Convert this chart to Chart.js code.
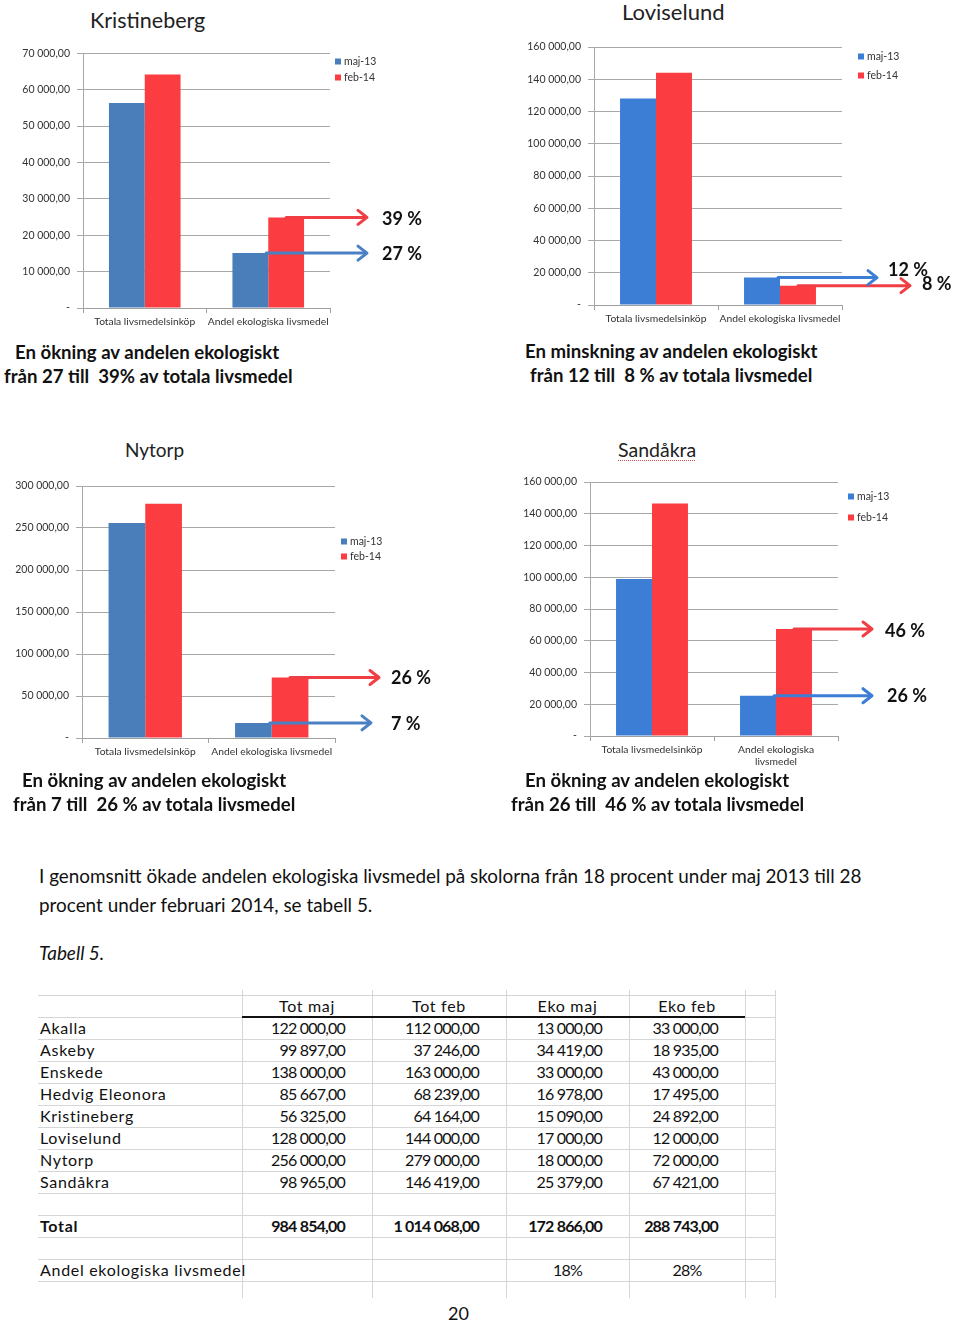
<!DOCTYPE html>
<html>
<head>
<meta charset="utf-8">
<script src="https://cdn.jsdelivr.net/npm/chart.js@4.4.1/dist/chart.umd.min.js"></script>
<style>
  html, body { margin:0; padding:0; background:#fff; }
  body { width:960px; height:1321px; position:relative; overflow:hidden; font-family: Lato, Carlito, Calibri, sans-serif; color:#111; }
  .abs { position:absolute; white-space:pre; }
  canvas { position:absolute; }
  .title { font-size:22px; line-height:26px; color:#222; }
  .cap { font-size:18.6px; font-weight:bold; line-height:24px; color:#111; }
  .para { font-size:18.9px; line-height:29px; color:#111; }
  .cell { position:absolute; font-size:16px; line-height:22px; height:22px; white-space:pre; color:#111; }
  .num { letter-spacing:-0.8px; }
  .lbl { letter-spacing:0.7px; }
  .hl { position:absolute; height:1px; background:#d6d6d6; }
  .vl { position:absolute; width:1px; background:#d6d6d6; }
</style>
</head>
<body>

<canvas id="cK" width="480" height="300" style="left:0px;top:40px"></canvas>
<canvas id="cL" width="480" height="300" style="left:480px;top:30px"></canvas>
<canvas id="cN" width="480" height="300" style="left:0px;top:470px"></canvas>
<canvas id="cS" width="480" height="310" style="left:480px;top:465px"></canvas>

<div class="abs title" style="left:90px;top:7px;font-size:21.5px">Kristineberg</div>
<div class="abs title" style="left:622px;top:-1px">Loviselund</div>
<div class="abs title" style="left:125px;top:437px;font-size:19px">Nytorp</div>
<div class="abs title" style="left:618px;top:437px;font-size:19.5px;text-decoration:underline dotted #e05050;text-decoration-thickness:1px;text-underline-offset:3px">Sandåkra</div>

<div class="abs cap" style="left:15px;top:340px">En ökning av andelen ekologiskt</div>
<div class="abs cap" style="left:4px;top:364px">från 27 till  39% av totala livsmedel</div>
<div class="abs cap" style="left:525px;top:339px">En minskning av andelen ekologiskt</div>
<div class="abs cap" style="left:530px;top:363px">från 12 till  8 % av totala livsmedel</div>
<div class="abs cap" style="left:22px;top:768px">En ökning av andelen ekologiskt</div>
<div class="abs cap" style="left:13px;top:792px">från 7 till  26 % av totala livsmedel</div>
<div class="abs cap" style="left:525px;top:768px">En ökning av andelen ekologiskt</div>
<div class="abs cap" style="left:511px;top:792px">från 26 till  46 % av totala livsmedel</div>

<div class="abs para" style="left:39px;top:861px">I genomsnitt ökade andelen ekologiska livsmedel på skolorna från 18 procent under maj 2013 till 28
procent under februari 2014, se tabell 5.</div>
<div class="abs para" style="left:39px;top:938px;font-style:italic">Tabell 5.</div>

<div id="tbl"></div>
<div class="abs" style="left:448px;top:1301px;font-size:18px;line-height:24px">20</div>

<script>
// ---------- Chart data ----------
const categories = ['Totala livsmedelsinköp', 'Andel ekologiska livsmedel'];
const categoriesWrapped = ['Totala livsmedelsinköp', ['Andel ekologiska', 'livsmedel']];
const seriesNames = ['maj-13', 'feb-14'];

const kristinebergMaj = [56325, 15090];
const kristinebergFeb = [64164, 24892];
const kristinebergPct = ['27 %', '39 %'];

const loviselundMaj = [128000, 17000];
const loviselundFeb = [144000, 12000];
const loviselundPct = ['12 %', '8 %'];

const nytorpMaj = [256000, 18000];
const nytorpFeb = [279000, 72000];
const nytorpPct = ['7 %', '26 %'];

const sandakraMaj = [98965, 25379];
const sandakraFeb = [146419, 67421];
const sandakraPct = ['26 %', '46 %'];

const kristinebergTicks = { max: 70000, step: 10000 };
const loviselundTicks = { max: 160000, step: 20000 };
const nytorpTicks = { max: 300000, step: 50000 };
const sandakraTicks = { max: 160000, step: 20000 };

// ---------- Table data ----------
const tableHeaders = ['Tot maj', 'Tot feb', 'Eko maj', 'Eko feb'];
const tableSchools = ['Akalla', 'Askeby', 'Enskede', 'Hedvig Eleonora', 'Kristineberg', 'Loviselund', 'Nytorp', 'Sandåkra'];
const totMaj = [122000, 99897, 138000, 85667, 56325, 128000, 256000, 98965];
const totFeb = [112000, 37246, 163000, 68239, 64164, 144000, 279000, 146419];
const ekoMaj = [13000, 34419, 33000, 16978, 15090, 17000, 18000, 25379];
const ekoFeb = [33000, 18935, 43000, 17495, 24892, 12000, 72000, 67421];
const totalLabel = 'Total';
const totalRow = [984854, 1014068, 172866, 288743];
const andelLabel = 'Andel ekologiska livsmedel';
const andelRow = ['18%', '28%'];

function fmtNum(v) {
  const s = Math.round(v).toString();
  return s.replace(/\B(?=(\d{3})+(?!\d))/g, ' ') + ',00';
}

Chart.defaults.font.family = 'Lato, Carlito, Calibri, sans-serif';
const RED = '#fb3c40';

const annotPlugin = {
  id: 'annot',
  afterDatasetsDraw(chart) {
    const o = chart.options.plugins.annot;
    const ctx = chart.ctx;
    const m0 = chart.getDatasetMeta(0).data[1];
    const m1 = chart.getDatasetMeta(1).data[1];
    const arrow = (x0, y, x1, color) => {
      ctx.save();
      ctx.strokeStyle = color; ctx.lineWidth = 3; ctx.lineCap = 'round'; ctx.lineJoin = 'round';
      ctx.beginPath(); ctx.moveTo(x0, y); ctx.lineTo(x1 - 1, y); ctx.stroke();
      ctx.beginPath(); ctx.moveTo(x1 - 9, y - 7); ctx.lineTo(x1, y); ctx.lineTo(x1 - 9, y + 7); ctx.stroke();
      ctx.restore();
    };
    arrow(m1.x, m1.y, o.redEnd, o.redArrow);
    arrow(m0.x + m0.width / 2 - 2, m0.y, o.blueEnd, o.blueArrow);
    ctx.save();
    ctx.fillStyle = '#111';
    ctx.font = 'bold 18px Lato, Carlito, Calibri, sans-serif';
    ctx.textBaseline = 'middle';
    ctx.textAlign = 'left';
    ctx.fillText(o.pct[1], o.redLabel[0], m1.y + o.redLabel[1]);
    ctx.fillText(o.pct[0], o.blueLabel[0], m0.y + o.blueLabel[1]);
    ctx.font = '10.5px Lato, Carlito, Calibri, sans-serif';
    chart.data.datasets.forEach((ds, i) => {
      const lx = o.legend[0], ly = o.legend[1] + i * o.legend[2];
      ctx.fillStyle = ds.backgroundColor;
      ctx.fillRect(lx, ly - 3.5, 6, 6);
      ctx.fillStyle = '#333';
      ctx.fillText(ds.label, lx + 9, ly);
    });
    ctx.restore();
  }
};

function makeChart(id, cfg) {
  return new Chart(document.getElementById(id), {
    type: 'bar',
    data: {
      labels: cfg.labels,
      datasets: [
        { label: seriesNames[0], data: cfg.maj, backgroundColor: cfg.blue },
        { label: seriesNames[1], data: cfg.feb, backgroundColor: RED }
      ]
    },
    options: {
      responsive: false, animation: false, devicePixelRatio: 1,
      layout: { padding: { left: cfg.pad[0], top: cfg.pad[1], right: cfg.pad[2], bottom: 0 } },
      datasets: { bar: { categoryPercentage: 0.58, barPercentage: 1 } },
      plugins: {
        legend: { display: false }, tooltip: { enabled: false },
        annot: cfg.annot
      },
      scales: {
        x: {
          grid: { display: true, drawOnChartArea: false, drawTicks: true, tickLength: 5, color: '#a0a0a0' },
          border: { color: '#a0a0a0' },
          ticks: { font: { size: 10.3 }, color: '#333', maxRotation: 0, autoSkip: false, padding: 2 },
          afterFit(s) { s.height = cfg.xh; }
        },
        y: {
          min: 0, max: cfg.ticks.max,
          ticks: { stepSize: cfg.ticks.step, callback: v => v === 0 ? '-' : fmtNum(v), font: { size: 10.5 }, color: '#333', padding: 7 },
          grid: { color: '#a8a8a8', tickLength: 6 },
          border: { color: '#a8a8a8' },
          afterFit(s) { s.width = 80; }
        }
      }
    },
    plugins: [annotPlugin]
  });
}

makeChart('cK', {
  labels: categories, maj: kristinebergMaj, feb: kristinebergFeb, blue: '#4a7ebb', ticks: kristinebergTicks,
  pad: [3, 11, 150], xh: 32,
  annot: { pct: kristinebergPct, redEnd: 367, blueEnd: 367, redArrow: '#f03e44', blueArrow: '#4a80c4',
    redLabel: [382, 2], blueLabel: [382, 1], legend: [335, 22, 16] }
});
makeChart('cL', {
  labels: categories, maj: loviselundMaj, feb: loviselundFeb, blue: '#3c7ed6', ticks: loviselundTicks,
  pad: [34, 17, 118], xh: 25,
  annot: { pct: loviselundPct, redEnd: 430, blueEnd: 397, redArrow: '#f03e44', blueArrow: '#3c7ed6',
    redLabel: [442, -1], blueLabel: [408, -7], legend: [378, 27, 19] }
});
makeChart('cN', {
  labels: categories, maj: nytorpMaj, feb: nytorpFeb, blue: '#4a7ebb', ticks: nytorpTicks,
  pad: [2, 16, 145], xh: 32,
  annot: { pct: nytorpPct, redEnd: 379, blueEnd: 371, redArrow: '#f03e44', blueArrow: '#4a80c4',
    redLabel: [391, 1], blueLabel: [391, 1], legend: [341, 72, 15] }
});
makeChart('cS', {
  labels: categoriesWrapped, maj: sandakraMaj, feb: sandakraFeb, blue: '#3c7ed6', ticks: sandakraTicks,
  pad: [30, 17, 122], xh: 39,
  annot: { pct: sandakraPct, redEnd: 392, blueEnd: 392, redArrow: '#f03e44', blueArrow: '#3c7ed6',
    redLabel: [405, 2], blueLabel: [407, 0], legend: [368, 32, 21] }
});

// ---------- Table ----------
(function buildTable() {
  const host = document.getElementById('tbl');
  const colX = [38, 242, 372, 506, 629, 745, 775];
  const top0 = 995, rh = 22;
  let html = '';
  for (let k = 0; k <= 13; k++) {
    html += `<div class="hl" style="left:38px;width:737px;top:${top0 + k * rh}px"></div>`;
  }
  for (let c = 1; c < colX.length; c++) {
    html += `<div class="vl" style="left:${colX[c]}px;top:990px;height:308px"></div>`;
  }
  html += `<div style="position:absolute;left:242px;width:503px;top:1016px;height:2px;background:#111"></div>`;
  const cell = (txt, row, col, align, bold, cls) => {
    const x = colX[col], w = colX[col + 1] - colX[col];
    const pad = align === 'right' ? 'padding-right:27px;' : (align === 'left' ? 'padding-left:2px;' : '');
    return `<div class="cell ${cls || ''}" style="left:${x}px;width:${w}px;top:${top0 + row * rh}px;text-align:${align};box-sizing:border-box;${pad}${bold ? 'font-weight:bold;' : ''}">${txt}</div>`;
  };
  tableHeaders.forEach((h, i) => { html += cell(h, 0, i + 1, 'center', false, 'lbl'); });
  tableSchools.forEach((s, r) => {
    html += cell(s, r + 1, 0, 'left', false, 'lbl');
    html += cell(fmtNum(totMaj[r]), r + 1, 1, 'right', false, 'num');
    html += cell(fmtNum(totFeb[r]), r + 1, 2, 'right', false, 'num');
    html += cell(fmtNum(ekoMaj[r]), r + 1, 3, 'right', false, 'num');
    html += cell(fmtNum(ekoFeb[r]), r + 1, 4, 'right', false, 'num');
  });
  html += cell(totalLabel, 10, 0, 'left', true, 'lbl');
  totalRow.forEach((v, i) => { html += cell(fmtNum(v), 10, i + 1, 'right', true, 'num'); });
  html += `<div class="cell lbl" style="left:40px;top:${top0 + 12 * rh}px">${andelLabel}</div>`;
  html += cell(andelRow[0], 12, 3, 'center', false, 'num');
  html += cell(andelRow[1], 12, 4, 'center', false, 'num');
  host.innerHTML = html;
})();
</script>
</body>
</html>
